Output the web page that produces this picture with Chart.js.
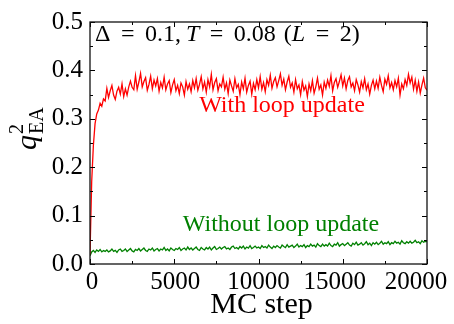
<!DOCTYPE html>
<html>
<head>
<meta charset="utf-8">
<script src="https://cdn.jsdelivr.net/npm/chart.js@4/dist/chart.umd.min.js"></script>
<style>
  html, body { margin: 0; padding: 0; background: #fff; }
  #wrap { width: 454px; height: 324px; position: relative; }
</style>
</head>
<body>
<div id="wrap"><canvas id="c"></canvas></div>
<script>
// MC steps are sampled every 100 steps, 0 .. 20000
var stepSpacing = 100;

// q_EA^2 with loop update (one row = 1000 MC steps)
var withLoop = [
  0.02, 0.17, 0.245, 0.29, 0.31, 0.318, 0.332, 0.326, 0.341, 0.337,
  0.363, 0.344, 0.358, 0.369, 0.349, 0.34, 0.357, 0.365, 0.351, 0.372,
  0.346, 0.362, 0.349, 0.366, 0.378, 0.365, 0.36, 0.389, 0.361, 0.376,
  0.394, 0.366, 0.377, 0.385, 0.359, 0.371, 0.388, 0.362, 0.38, 0.368,
  0.383, 0.357, 0.375, 0.364, 0.386, 0.36, 0.372, 0.379, 0.354, 0.37,
  0.381, 0.358, 0.369, 0.352, 0.374, 0.366, 0.349, 0.377, 0.361, 0.372,
  0.356, 0.379, 0.364, 0.383, 0.359, 0.371, 0.387, 0.362, 0.376, 0.355,
  0.381, 0.366, 0.392, 0.36, 0.375, 0.383, 0.358, 0.372, 0.366, 0.386,
  0.361, 0.374, 0.352, 0.38, 0.368, 0.357, 0.383, 0.364, 0.371, 0.35,
  0.376, 0.362, 0.384, 0.355, 0.369, 0.378, 0.351, 0.373, 0.36, 0.381,
  0.364, 0.387, 0.361, 0.375, 0.356, 0.381, 0.369, 0.39, 0.363, 0.377,
  0.385, 0.366, 0.379, 0.393, 0.369, 0.382, 0.36, 0.376, 0.388, 0.365,
  0.374, 0.355, 0.381, 0.362, 0.37, 0.35, 0.377, 0.359, 0.368, 0.346,
  0.372, 0.358, 0.379, 0.353, 0.366, 0.384, 0.361, 0.37, 0.349, 0.376,
  0.363, 0.38, 0.367, 0.389, 0.358, 0.375, 0.383, 0.365, 0.377, 0.391,
  0.368, 0.384, 0.362, 0.379, 0.387, 0.366, 0.374, 0.358, 0.381, 0.37,
  0.355, 0.377, 0.364, 0.383, 0.36, 0.372, 0.351, 0.369, 0.38, 0.362,
  0.378, 0.363, 0.386, 0.369, 0.356, 0.382, 0.371, 0.389, 0.364, 0.375,
  0.36, 0.379, 0.366, 0.384, 0.349, 0.372, 0.362, 0.381, 0.369, 0.392,
  0.374, 0.386, 0.361, 0.38, 0.357, 0.376, 0.353, 0.37, 0.384, 0.364,
  0.359
];

// q_EA^2 without loop update
var withoutLoop = [
  0.017, 0.025, 0.028, 0.024, 0.029, 0.026, 0.03, 0.025, 0.028, 0.026,
  0.029, 0.025, 0.027, 0.031, 0.026, 0.028, 0.024, 0.029, 0.031, 0.026,
  0.028, 0.031, 0.026, 0.029, 0.032, 0.027, 0.025, 0.03, 0.028, 0.032,
  0.027, 0.03, 0.033, 0.028, 0.026, 0.031, 0.029, 0.033, 0.027, 0.03,
  0.032, 0.027, 0.031, 0.029, 0.034, 0.028, 0.031, 0.027, 0.033, 0.03,
  0.028, 0.032, 0.03, 0.034, 0.028, 0.031, 0.033, 0.029, 0.035, 0.03,
  0.033, 0.029, 0.032, 0.035, 0.03, 0.028, 0.034, 0.031, 0.029, 0.034,
  0.031, 0.035, 0.029, 0.033, 0.036, 0.03, 0.032, 0.035, 0.031, 0.034,
  0.036, 0.031, 0.033, 0.03, 0.035, 0.037, 0.032, 0.034, 0.031, 0.036,
  0.033, 0.037, 0.031, 0.035, 0.033, 0.038, 0.032, 0.034, 0.037, 0.033,
  0.035, 0.032, 0.038, 0.034, 0.036, 0.033, 0.039, 0.035, 0.032, 0.037,
  0.034, 0.038, 0.035, 0.033, 0.039, 0.036, 0.034, 0.04, 0.035, 0.037,
  0.039, 0.034, 0.037, 0.041, 0.035, 0.038, 0.036, 0.04, 0.034, 0.038,
  0.036, 0.041, 0.037, 0.039, 0.035, 0.042, 0.038, 0.036, 0.041, 0.037,
  0.04, 0.037, 0.043, 0.038, 0.036, 0.041, 0.039, 0.044, 0.037, 0.04,
  0.042, 0.038, 0.041, 0.044, 0.039, 0.037, 0.043, 0.04, 0.045, 0.039,
  0.041, 0.044, 0.039, 0.042, 0.046, 0.04, 0.043, 0.038, 0.044, 0.041,
  0.045, 0.04, 0.043, 0.047, 0.041, 0.044, 0.042, 0.046, 0.04, 0.044,
  0.042, 0.047, 0.043, 0.045, 0.041, 0.048, 0.044, 0.042, 0.046, 0.043,
  0.047, 0.043, 0.045, 0.049, 0.044, 0.046, 0.042, 0.048, 0.045, 0.047,
  0.046
];

var xTickLabels = [0, 5000, 10000, 15000, 20000];
var seriesNames = ['With loop update', 'Without loop update'];

var SERIF = '"Liberation Serif", "DejaVu Serif", serif';

function toPoints(vals) {
  return vals.map(function (v, i) { return { x: i * stepSpacing, y: v }; });
}

// frame, inward ticks, x labels and the text bits
var decorations = {
  id: 'decorations',
  afterDraw: function (chart) {
    var ctx = chart.ctx;
    var a = chart.chartArea;
    var xs = chart.scales.x;
    var ys = chart.scales.y;
    ctx.save();

    // ticks on all four sides, pointing in
    ctx.strokeStyle = '#000';
    ctx.lineWidth = 1;
    ctx.beginPath();
    for (var v = 0; v <= 20000; v += 2500) {
      var px = Math.round(xs.getPixelForValue(v)) + 0.5;
      var len = (v % 5000 === 0) ? 5 : 3;
      ctx.moveTo(px, a.bottom); ctx.lineTo(px, a.bottom - len);
      ctx.moveTo(px, a.top); ctx.lineTo(px, a.top + len);
    }
    for (var k = 0; k <= 10; k++) {
      var py = Math.round(ys.getPixelForValue(k * 0.05)) + 0.5;
      var l2 = (k % 2 === 0) ? 5 : 3;
      ctx.moveTo(a.left, py); ctx.lineTo(a.left + l2, py);
      ctx.moveTo(a.right, py); ctx.lineTo(a.right - l2, py);
    }
    ctx.stroke();

    // frame
    ctx.lineWidth = 1.3;
    ctx.strokeStyle = '#111';
    ctx.strokeRect(a.left, a.top, a.right - a.left, a.bottom - a.top);

    // x tick labels
    var nudge = [2, 1, 0, -8, -11];
    ctx.fillStyle = '#000';
    ctx.font = '25px ' + SERIF;
    ctx.textAlign = 'center';
    ctx.textBaseline = 'alphabetic';
    xTickLabels.forEach(function (t, i) {
      ctx.fillText(String(t), xs.getPixelForValue(t) + nudge[i], 289);
    });

    // x title
    ctx.font = '30px ' + SERIF;
    ctx.fillText('MC step', (a.left + a.right) / 2 + 3, 313);

    // y title: q^2_EA, rotated
    ctx.save();
    ctx.translate(36, 150);
    ctx.rotate(-Math.PI / 2);
    ctx.textAlign = 'left';
    ctx.font = 'italic 30px ' + SERIF;
    ctx.fillText('q', 0, 0);
    var qw = ctx.measureText('q').width;
    ctx.font = '20px ' + SERIF;
    ctx.fillText('2', qw + 1, -13);
    ctx.fillText('EA', qw + 1, 7);
    ctx.restore();

    // parameter note, TeX-like spacing: [text, italic, gap after]
    var rel = 10.5;
    var parts = [
      ['\u0394', false, rel], ['=', false, rel], ['0.1,', false, 5],
      ['T', true, rel], ['=', false, rel], ['0.08', false, 8],
      ['(', false, 0], ['L', true, rel], ['=', false, rel],
      ['2', false, 0], [')', false, 0]
    ];
    var tx = 95;
    ctx.textAlign = 'left';
    parts.forEach(function (p) {
      ctx.font = (p[1] ? 'italic ' : '') + '24px ' + SERIF;
      ctx.fillText(p[0], tx, 41);
      tx += ctx.measureText(p[0]).width + p[2];
    });

    // series labels
    ctx.textAlign = 'center';
    ctx.font = '24px ' + SERIF;
    ctx.fillStyle = '#ff0000';
    ctx.fillText(seriesNames[0], 282, 112);
    ctx.fillStyle = '#008000';
    ctx.fillText(seriesNames[1], 281, 231);

    ctx.restore();
  }
};

new Chart(document.getElementById('c').getContext('2d'), {
  type: 'line',
  data: {
    datasets: [
      {
        label: seriesNames[0],
        data: toPoints(withLoop),
        borderColor: '#ff0000',
        borderWidth: 1.3,
        pointRadius: 0,
        tension: 0,
        fill: false
      },
      {
        label: seriesNames[1],
        data: toPoints(withoutLoop),
        borderColor: '#008000',
        borderWidth: 1.3,
        pointRadius: 0,
        tension: 0,
        fill: false
      }
    ]
  },
  options: {
    responsive: true,
    maintainAspectRatio: false,
    animation: false,
    layout: { padding: { top: 16, right: 27, left: 0, bottom: 0 } },
    plugins: { legend: { display: false }, tooltip: { enabled: false } },
    scales: {
      x: {
        type: 'linear',
        min: 0,
        max: 20000,
        ticks: { display: false, stepSize: 5000 },
        grid: { display: false, drawTicks: false },
        border: { display: false },
        afterFit: function (s) { s.height = 60; }
      },
      y: {
        min: 0,
        max: 0.5,
        ticks: {
          stepSize: 0.1,
          padding: 7,
          color: '#000',
          font: { family: SERIF, size: 25 },
          callback: function (v) { return v.toFixed(1); }
        },
        grid: { display: false, drawTicks: false },
        border: { display: false },
        afterFit: function (s) { s.width = 90; }
      }
    }
  },
  plugins: [decorations]
});
</script>
</body>
</html>
